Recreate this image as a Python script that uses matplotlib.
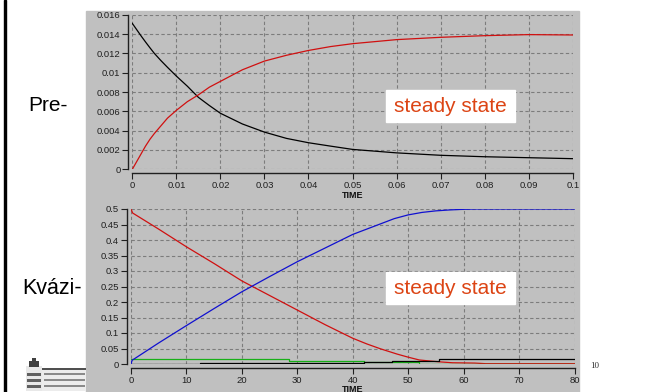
import matplotlib
matplotlib.use("Agg")
import matplotlib.pyplot as plt
from matplotlib.patches import Rectangle
from matplotlib import font_manager

# ---------------- data ----------------
# Pre-steady state panel
pre_time = [0, 0.001, 0.002, 0.003, 0.004, 0.005, 0.0065, 0.008, 0.01, 0.0125, 0.015,
            0.0175, 0.02, 0.025, 0.03, 0.035, 0.04, 0.045, 0.05, 0.06, 0.07, 0.08, 0.09, 0.1]
pre_black = [0.0151, 0.01445, 0.0138, 0.01318, 0.01258, 0.0120, 0.01125, 0.01055, 0.00965,
             0.0086, 0.00745, 0.0066, 0.0058, 0.00469, 0.00385, 0.0032, 0.00275, 0.0024,
             0.00206, 0.0017, 0.00145, 0.0013, 0.0012, 0.0011]
pre_red = [0.0, 0.0008, 0.0016, 0.0024, 0.0031, 0.0037, 0.0045, 0.0053, 0.0061, 0.0070,
           0.0077, 0.0085, 0.0091, 0.0103, 0.0112, 0.0118, 0.0123, 0.0127, 0.0130,
           0.01342, 0.01366, 0.01383, 0.01394, 0.0139]
pre_xticks = [0, 0.01, 0.02, 0.03, 0.04, 0.05, 0.06, 0.07, 0.08, 0.09, 0.1]
pre_xlabels = ["0", "0.01", "0.02", "0.03", "0.04", "0.05", "0.06", "0.07", "0.08", "0.09", "0.1"]
pre_yticks = [0, 0.002, 0.004, 0.006, 0.008, 0.01, 0.012, 0.014, 0.016]
pre_ylabels = ["0", "0.002", "0.004", "0.006", "0.008", "0.01", "0.012", "0.014", "0.016"]

# Quasi-steady state panel
qs_red_t = [0, 0.3, 5, 10, 15, 20, 25, 30, 35, 40, 42.5, 45, 48, 50, 52, 54, 56, 58, 62, 64, 80]
qs_red_v = [0.5, 0.487, 0.435, 0.378, 0.324, 0.268, 0.221, 0.174, 0.127, 0.083, 0.065,
            0.049, 0.032, 0.022, 0.013, 0.0095, 0.0065, 0.004, 0.003, 0.001, 0.001]
qs_blue_t = [0, 0.2, 5, 10, 15, 20, 25, 30, 35, 40, 45, 47.5, 50, 52.5, 55, 57.5, 60, 62, 80]
qs_blue_v = [0.0, 0.012, 0.068, 0.124, 0.179, 0.233, 0.282, 0.330, 0.374, 0.418,
             0.452, 0.469, 0.481, 0.489, 0.494, 0.497, 0.499, 0.5, 0.5]
qs_green_t = [0, 28.5, 42, 46, 52, 80]
qs_green_v = [0.015, 0.011, 0.0075, 0.005, 0.001, 0.001]
qs_black_t = [0, 12.5, 38, 42, 47, 50, 55.5, 80]
qs_black_v = [0.0, 0.002, 0.004, 0.006, 0.0085, 0.011, 0.015, 0.015]
qs_xticks = [0, 10, 20, 30, 40, 50, 60, 70, 80]
qs_xlabels = ["0", "10", "20", "30", "40", "50", "60", "70", "80"]
qs_yticks = [0, 0.05, 0.1, 0.15, 0.2, 0.25, 0.3, 0.35, 0.4, 0.45, 0.5]
qs_ylabels = ["0", "0.05", "0.1", "0.15", "0.2", "0.25", "0.3", "0.35", "0.4", "0.45", "0.5"]

label_pre = "Pre-"
label_qs = "Kvázi-"
box_text = "steady state"
page_no = "10"

# ---------------- style ----------------
W, H = 650, 392
installed = {f.name for f in font_manager.fontManager.ttflist}
tick_family = "Liberation Sans Narrow" if "Liberation Sans Narrow" in installed else "Liberation Sans"

def fx(px):
    return px / W

def fy(py):
    return 1 - py / H

fig = plt.figure(figsize=(W / 100, H / 100), dpi=100)
fig.patch.set_facecolor("white")

# left black rule of the slide
fig.patches.append(Rectangle((fx(3.5), 0), fx(2.2), 1, transform=fig.transFigure,
                             color="black", zorder=-10))
# grey chart background
fig.patches.append(Rectangle((fx(86), 0), fx(579) - fx(86), fy(11), transform=fig.transFigure,
                             color="#c0c0c0", zorder=-10))

def make_axes(rect, xlim, ylim, xticks, xlabels, yticks, ylabels):
    ax = fig.add_axes(rect)
    ax.set_zorder(1)
    ax.set_facecolor("none")
    ax.set_xlim(*xlim)
    ax.set_ylim(*ylim)
    for s in ("top", "right"):
        ax.spines[s].set_visible(False)
    for s in ("left", "bottom"):
        ax.spines[s].set_position(("outward", 3))
        ax.spines[s].set_color("#202020")
        ax.spines[s].set_linewidth(1.0)
    ax.set_xticks(xticks)
    ax.set_xticklabels(xlabels, family=tick_family, fontsize=6.8, color="#202020")
    ax.set_yticks(yticks)
    ax.set_yticklabels(ylabels, family=tick_family, fontsize=6.8, color="#202020")
    ax.tick_params(length=4, width=0.8, color="#202020", pad=1.5)
    ax.grid(True, color="#7c7c7c", linestyle=(0, (3, 2.2)), linewidth=0.8)
    ax.set_axisbelow(True)
    ax.set_xlabel("TIME", family="Liberation Sans", fontsize=6.5, fontweight="bold",
                  labelpad=0.5, color="#101010")
    return ax

ax1 = make_axes([fx(132.3), fy(169.3), fx(572.7) - fx(132.3), fy(14.7) - fy(169.3)],
                (0, 0.1), (0, 0.016), pre_xticks, pre_xlabels, pre_yticks, pre_ylabels)
ax1.plot(pre_time, pre_black, color="black", lw=0.9)
ax1.plot(pre_time, pre_red, color="#d01010", lw=0.9)

ax2 = make_axes([fx(131), fy(364), fx(574.5) - fx(131), fy(209) - fy(364)],
                (0, 80), (0, 0.5), qs_xticks, qs_xlabels, qs_yticks, qs_ylabels)
ax2.plot(qs_red_t, qs_red_v, color="#d01010", lw=0.9, zorder=2)
ax2.plot(qs_green_t, qs_green_v, color="#18b018", lw=0.9, drawstyle="steps-post", zorder=3)
ax2.plot(qs_black_t, qs_black_v, color="black", lw=0.9, drawstyle="steps-post", zorder=3)
ax2.plot(qs_blue_t, qs_blue_v, color="#1010d0", lw=0.9, zorder=4)

# labels at the left
fig.text(fx(28), fy(111), label_pre, fontsize=15, family="Liberation Sans",
         ha="left", va="baseline")
fig.text(fx(22), fy(294.3), label_qs, fontsize=15.5, family="Liberation Sans",
         ha="left", va="baseline")

# "steady state" boxes
for (top, bot) in ((90, 122), (272, 304)):
    fig.patches.append(Rectangle((fx(386), fy(bot)), fx(515) - fx(386), fy(top) - fy(bot),
                                 transform=fig.transFigure, color="white", zorder=5))
    fig.text(fx(450.5), fy((top + bot) / 2 + 1), box_text, fontsize=15, family="Liberation Sans",
             color="#dc4414", ha="center", va="center", zorder=6)

# page number
fig.text(fx(595), fy(366), page_no, fontsize=6.5, family="Liberation Serif",
         ha="center", va="center", color="#303030")

# small building logo at the bottom left
def rect_px(x0, y0, x1, y1, color):
    fig.patches.append(Rectangle((fx(x0), fy(y1)), fx(x1) - fx(x0), fy(y0) - fy(y1),
                                 transform=fig.transFigure, color=color, zorder=-5, lw=0))

rect_px(26, 366, 42, 391, "#e8e8e8")     # tower
rect_px(29, 361, 39, 367, "#404040")     # tower roof
rect_px(32, 358, 36, 361, "#404040")
rect_px(42, 368, 86, 391, "#ececec")     # wing
rect_px(42, 368, 86, 370, "#505050")     # wing roof
for yy in (373, 379, 385):
    rect_px(27, yy, 41, yy + 2.5, "#606060")
    rect_px(44, yy, 85, yy + 2, "#8a8a8a")

fig.savefig("out.png", dpi=100, facecolor="white")
